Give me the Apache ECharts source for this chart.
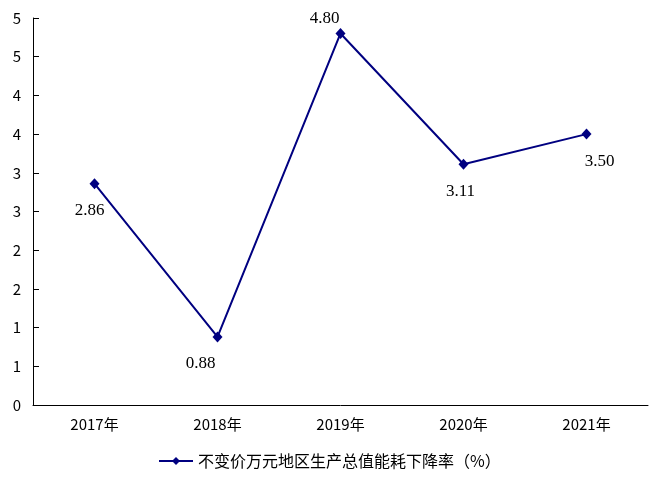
<!DOCTYPE html>
<html>
<head>
<meta charset="utf-8">
<script src="https://cdn.jsdelivr.net/npm/echarts@6/dist/echarts.min.js"></script>
<style>html,body{margin:0;padding:0;background:#fff;}#c{width:668px;height:490px;}</style>
</head>
<body>
<div id="c"></div>
<script>
const categories = ['2017年', '2018年', '2019年', '2020年', '2021年'];
const seriesName = '不变价万元地区生产总值能耗下降率（%）';
const values = [2.86, 0.88, 4.80, 3.11, 3.50];
const yTickLabels = ['0', '1', '1', '2', '2', '3', '3', '4', '4', '5', '5'];

const labelOffsets = [[-5, 27], [-17, 27], [-16, -15], [-3, 27], [13, 27]];

const chart = echarts.init(document.getElementById('c'));
const cjk = '"Noto Sans CJK SC", sans-serif';
chart.setOption({
  animation: false,
  backgroundColor: '#fff',
  grid: { left: 33, right: 20, top: 18, bottom: 85, containLabel: false },
  legend: {
    bottom: 16,
    left: 153,
    itemWidth: 34,
    itemHeight: 10,
    textStyle: { fontFamily: cjk, fontSize: 16, color: '#000' },
    data: [seriesName]
  },
  xAxis: {
    type: 'category',
    data: categories,
    boundaryGap: true,
    axisLine: { lineStyle: { color: '#000', width: 1 } },
    axisTick: { inside: true, length: 5, lineStyle: { color: '#000' } },
    axisLabel: { color: '#000', fontFamily: cjk, fontSize: 15, margin: 12 }
  },
  yAxis: {
    type: 'value',
    min: 0, max: 5, interval: 0.5,
    splitLine: { show: false },
    axisLine: { show: true, lineStyle: { color: '#000', width: 1 } },
    axisTick: { show: true, inside: true, length: 6, lineStyle: { color: '#000' } },
    axisLabel: {
      color: '#000', fontFamily: cjk, fontSize: 15, margin: 12,
      formatter: (v, i) => yTickLabels[i]
    }
  },
  series: [{
    name: seriesName,
    type: 'line',
    data: values.map((v, i) => ({
      value: v,
      label: { offset: labelOffsets[i] }
    })),
    symbol: 'diamond',
    symbolSize: [10, 11],
    lineStyle: { color: '#000080', width: 2 },
    itemStyle: { color: '#000080' },
    label: {
      show: true,
      position: 'inside',
      align: 'center',
      verticalAlign: 'middle',
      color: '#000',
      fontFamily: '"Liberation Serif", serif',
      fontSize: 17,
      formatter: p => p.value.toFixed(2)
    }
  }]
});
</script>
</body>
</html>
